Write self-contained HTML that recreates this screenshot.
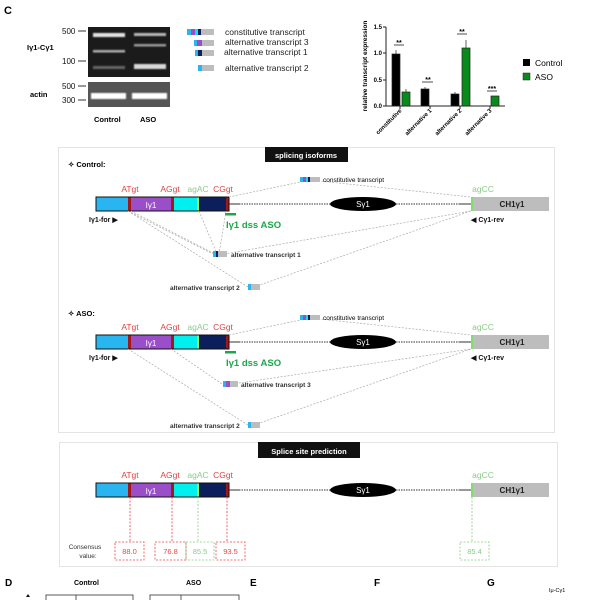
<!DOCTYPE html>
<html><head><meta charset="utf-8"><style>body{margin:0;background:#fff}svg{display:block}text{font-family:"Liberation Sans",sans-serif}</style></head><body>
<svg width="600" height="600" viewBox="0 0 600 600" xmlns="http://www.w3.org/2000/svg">
<defs>
<filter id="b"><feGaussianBlur stdDeviation="0.8"/></filter>
<g id="gene">
<rect x="96" y="0" width="32" height="14" fill="#29b6f0"/>
<rect x="128" y="0" width="3" height="14" fill="#a01818"/>
<rect x="131" y="0" width="40" height="14" fill="#9a4fc8"/>
<rect x="171" y="0" width="3" height="14" fill="#a01818"/>
<rect x="174" y="0" width="23" height="14" fill="#00f0f0"/>
<rect x="197" y="0" width="2" height="14" fill="#90ee70"/>
<rect x="199" y="0" width="27" height="14" fill="#0a1f5c"/>
<rect x="226" y="0" width="3" height="14" fill="#a01818"/>
<rect x="96" y="0" width="133" height="14" fill="none" stroke="#111" stroke-width="1"/>
<text x="151" y="11" font-size="8" fill="#fff" text-anchor="middle">Iγ1</text>
<line x1="229" y1="7" x2="330" y2="7" stroke="#333" stroke-width="1" stroke-dasharray="1.5,1"/>
<line x1="229" y1="7" x2="240" y2="7" stroke="#333" stroke-width="1"/>
<ellipse cx="363" cy="7" rx="33" ry="7" fill="#000"/>
<text x="363" y="10" font-size="8" fill="#fff" text-anchor="middle">Sγ1</text>
<line x1="396" y1="7" x2="471" y2="7" stroke="#333" stroke-width="1" stroke-dasharray="1.5,1"/>
<line x1="460" y1="7" x2="471" y2="7" stroke="#333" stroke-width="1"/>
<rect x="471" y="0" width="78" height="14" fill="#bdbdbd"/>
<rect x="471" y="0" width="2" height="14" fill="#7ee06a"/>
<text x="512" y="10" font-size="8" fill="#222" text-anchor="middle" font-weight="bold">CH1γ1</text>
<g font-size="8.5">
<text x="130" y="-5" fill="#d44" text-anchor="middle">ATgt</text>
<text x="170" y="-5" fill="#d44" text-anchor="middle">AGgt</text>
<text x="198" y="-5" fill="#8c8" text-anchor="middle">agAC</text>
<text x="223" y="-5" fill="#d44" text-anchor="middle">CGgt</text>
<text x="483" y="-5" fill="#8c8" text-anchor="middle">agCC</text>
</g>
</g>
<g id="labels">
<text x="89" y="25" font-size="7" font-weight="bold" fill="#111">Iγ1-for ▶</text>
<text x="471" y="25" font-size="7" font-weight="bold" fill="#111">◀ Cγ1-rev</text>
<rect x="225" y="16" width="11" height="2.5" fill="#1aa84a"/>
<text x="226" y="31" font-size="9.5" font-weight="bold" fill="#1aa84a">Iγ1 dss ASO</text>
</g>
</defs>

<text x="4" y="14" font-size="11" font-weight="bold">C</text>
<rect x="88" y="27" width="82" height="50" fill="#1b1b1b"/>
<g filter="url(#b)" fill="#eee">
<rect x="93" y="33" width="32" height="4" opacity="0.95"/>
<rect x="134" y="33" width="32" height="3" opacity="0.75"/>
<rect x="93" y="50" width="32" height="2.5" opacity="0.7"/>
<rect x="134" y="44" width="32" height="2.5" opacity="0.6"/>
<rect x="93" y="66" width="32" height="3" opacity="0.35"/>
<rect x="134" y="64" width="32" height="5" opacity="0.9"/>
</g>
<rect x="88" y="82" width="82" height="25" fill="#555"/>
<g filter="url(#b)" fill="#fff"><rect x="91" y="93" width="35" height="6"/><rect x="132" y="93" width="35" height="6"/></g>
<g font-size="8" fill="#111">
<text x="62" y="34">500</text><line x1="78" y1="31" x2="86" y2="31" stroke="#333"/>
<text x="62" y="64">100</text><line x1="78" y1="61" x2="86" y2="61" stroke="#333"/>
<text x="62" y="89">500</text><line x1="78" y1="86" x2="86" y2="86" stroke="#333"/>
<text x="62" y="103">300</text><line x1="78" y1="100" x2="86" y2="100" stroke="#333"/>
</g>
<text x="27" y="50" font-size="7.5" font-weight="bold">Iγ1-Cγ1</text>
<text x="30" y="97" font-size="7.5" font-weight="bold">actin</text>
<text x="94" y="122" font-size="7.5" font-weight="bold">Control</text>
<text x="140" y="122" font-size="7.5" font-weight="bold">ASO</text>
<g>
<rect x="187" y="29" width="4" height="6" fill="#29b6f0"/><rect x="191" y="29" width="4" height="6" fill="#9a4fc8"/><rect x="195" y="29" width="3" height="6" fill="#00e8f0"/><rect x="198" y="29" width="3" height="6" fill="#0a1f5c"/><rect x="201" y="29" width="13" height="6" fill="#bdbdbd"/>
<rect x="194" y="40" width="3" height="6" fill="#29b6f0"/><rect x="197" y="40" width="5" height="6" fill="#9a4fc8"/><rect x="202" y="40" width="12" height="6" fill="#bdbdbd"/>
<rect x="195" y="50" width="3" height="6" fill="#29b6f0"/><rect x="198" y="50" width="4" height="6" fill="#0a1f5c"/><rect x="202" y="50" width="12" height="6" fill="#bdbdbd"/>
<rect x="198" y="65" width="4" height="6" fill="#29b6f0"/><rect x="202" y="65" width="12" height="6" fill="#bdbdbd"/>
</g>
<g font-size="8.5" fill="#222">
<text x="225" y="35">constitutive transcript</text>
<text x="225" y="45">alternative transcript 3</text>
<text x="224" y="55">alternative transcript 1</text>
<text x="225" y="71">alternative transcript 2</text>
</g>
<g>
<line x1="386" y1="27" x2="386" y2="106" stroke="#222"/>
<line x1="386" y1="106" x2="505" y2="106" stroke="#222"/>
<g stroke="#222"><line x1="383" y1="27" x2="386" y2="27"/><line x1="383" y1="53" x2="386" y2="53"/><line x1="383" y1="80" x2="386" y2="80"/><line x1="383" y1="106" x2="386" y2="106"/>
<line x1="400" y1="106" x2="400" y2="109"/><line x1="430" y1="106" x2="430" y2="109"/><line x1="460" y1="106" x2="460" y2="109"/><line x1="490" y1="106" x2="490" y2="109"/></g>
<g font-size="6" font-weight="bold" text-anchor="end"><text x="382" y="29">1.5</text><text x="382" y="55">1.0</text><text x="382" y="82">0.5</text><text x="382" y="108">0.0</text></g>
<text transform="translate(367,66) rotate(-90)" font-size="6.5" font-weight="bold" text-anchor="middle">relative transcript expression</text>
<g stroke="#222" stroke-width="0.7">
<rect x="392" y="54" width="8" height="52" fill="#000"/><line x1="396" y1="54" x2="396" y2="50"/>
<rect x="402" y="92" width="8" height="14" fill="#0a8a1a"/><line x1="406" y1="92" x2="406" y2="89"/>
<rect x="421" y="89" width="8" height="17" fill="#000"/><line x1="425" y1="89" x2="425" y2="87"/>
<rect x="451" y="94" width="8" height="12" fill="#000"/><line x1="455" y1="94" x2="455" y2="92"/>
<rect x="462" y="48" width="8" height="58" fill="#0a8a1a"/><line x1="466" y1="48" x2="466" y2="40"/>
<rect x="491" y="96" width="8" height="10" fill="#0a8a1a"/>
</g>
<g stroke="#222" stroke-width="0.8"><line x1="394" y1="45" x2="404" y2="45"/><line x1="422" y1="82" x2="433" y2="82"/><line x1="457" y1="34" x2="467" y2="34"/><line x1="487" y1="91" x2="497" y2="91"/></g>
<g font-size="7" font-weight="bold" text-anchor="middle"><text x="399" y="45">**</text><text x="428" y="82">**</text><text x="462" y="34">**</text><text x="492" y="91">***</text></g>
<g font-size="6" font-weight="bold" text-anchor="end">
<text transform="translate(402,111) rotate(-45)">constitutive</text>
<text transform="translate(432,111) rotate(-45)">alternative 1</text>
<text transform="translate(462,111) rotate(-45)">alternative 2</text>
<text transform="translate(492,111) rotate(-45)">alternative 3</text>
</g>
<rect x="523" y="59" width="7" height="7" fill="#000"/><text x="535" y="66" font-size="8.5">Control</text>
<rect x="523" y="73" width="7" height="7" fill="#0a8a1a" stroke="#222" stroke-width="0.5"/><text x="535" y="80" font-size="8.5">ASO</text>
</g>

<rect x="58.5" y="147.5" width="496" height="285" fill="none" stroke="#e4e4e4"/>
<rect x="265" y="147" width="83" height="15" fill="#111"/>
<text x="306" y="158" font-size="7.5" font-weight="bold" fill="#fff" text-anchor="middle">splicing isoforms</text>
<text x="68" y="167" font-size="7.5" font-weight="bold">✧ Control:</text>
<use href="#gene" transform="translate(0,197)"/>
<use href="#labels" transform="translate(0,197)"/>
<g stroke="#aaa" stroke-width="0.7" stroke-dasharray="2,1.5" fill="none">
<polyline points="229,197 310,180 471,197"/>
<line x1="128" y1="211" x2="213" y2="254"/><line x1="131" y1="211" x2="215" y2="254"/>
<line x1="199" y1="211" x2="217" y2="254"/><line x1="226" y1="211" x2="219" y2="254"/>
<line x1="224" y1="254" x2="471" y2="211"/>
<line x1="128" y1="211" x2="248" y2="287"/><line x1="254" y1="287" x2="471" y2="211"/>
</g>
<rect x="300" y="177" width="3" height="5" fill="#29b6f0"/><rect x="303" y="177" width="3" height="5" fill="#9a4fc8"/><rect x="306" y="177" width="2" height="5" fill="#00e8f0"/><rect x="308" y="177" width="2" height="5" fill="#0a1f5c"/><rect x="310" y="177" width="10" height="5" fill="#bdbdbd"/>
<text x="323" y="182" font-size="6.5">constitutive transcript</text>
<rect x="213" y="251" width="3" height="6" fill="#29b6f0"/><rect x="216" y="251" width="2" height="6" fill="#0a1f5c"/><rect x="218" y="251" width="9" height="6" fill="#bdbdbd"/>
<text x="231" y="257" font-size="6.5" font-weight="bold" fill="#333">alternative transcript 1</text>
<rect x="248" y="284" width="3" height="6" fill="#29b6f0"/><rect x="251" y="284" width="9" height="6" fill="#bdbdbd"/>
<text x="170" y="290" font-size="6.5" font-weight="bold" fill="#333">alternative transcript 2</text>

<text x="68" y="316" font-size="7.5" font-weight="bold">✧ ASO:</text>
<use href="#gene" transform="translate(0,335)"/>
<use href="#labels" transform="translate(0,335)"/>
<g stroke="#aaa" stroke-width="0.7" stroke-dasharray="2,1.5" fill="none">
<polyline points="229,335 310,318 471,335"/>
<line x1="171" y1="349" x2="222" y2="384"/><line x1="232" y1="384" x2="471" y2="349"/>
<line x1="128" y1="349" x2="248" y2="425"/><line x1="254" y1="425" x2="471" y2="349"/>
</g>
<rect x="300" y="315" width="3" height="5" fill="#29b6f0"/><rect x="303" y="315" width="3" height="5" fill="#9a4fc8"/><rect x="306" y="315" width="2" height="5" fill="#00e8f0"/><rect x="308" y="315" width="2" height="5" fill="#0a1f5c"/><rect x="310" y="315" width="10" height="5" fill="#bdbdbd"/>
<text x="323" y="320" font-size="6.5">constitutive transcript</text>
<rect x="223" y="381" width="3" height="6" fill="#29b6f0"/><rect x="226" y="381" width="4" height="6" fill="#9a4fc8"/><rect x="230" y="381" width="8" height="6" fill="#bdbdbd"/>
<text x="241" y="387" font-size="6.5" font-weight="bold" fill="#333">alternative transcript 3</text>
<rect x="248" y="422" width="3" height="6" fill="#29b6f0"/><rect x="251" y="422" width="9" height="6" fill="#bdbdbd"/>
<text x="170" y="428" font-size="6.5" font-weight="bold" fill="#333">alternative transcript 2</text>

<rect x="59.5" y="442.5" width="498" height="124" fill="none" stroke="#e4e4e4"/>
<rect x="258" y="442" width="102" height="16" fill="#111"/>
<text x="309" y="454" font-size="7.5" font-weight="bold" fill="#fff" text-anchor="middle">Splice site prediction</text>
<use href="#gene" transform="translate(0,483)"/>
<g stroke-dasharray="2,1.5" stroke-width="0.8" fill="none">
<line x1="130" y1="497" x2="130" y2="542" stroke="#e44"/>
<line x1="172" y1="497" x2="172" y2="542" stroke="#e44"/>
<line x1="198" y1="497" x2="198" y2="542" stroke="#8c8"/>
<line x1="227" y1="497" x2="227" y2="542" stroke="#e44"/>
<line x1="472" y1="497" x2="472" y2="542" stroke="#8c8"/>
<rect x="115" y="542" width="29" height="18" stroke="#e44"/>
<rect x="155" y="542" width="31" height="18" stroke="#e44"/>
<rect x="186" y="542" width="28" height="18" stroke="#8c8"/>
<rect x="216" y="542" width="29" height="18" stroke="#e44"/>
<rect x="460" y="542" width="29" height="18" stroke="#8c8"/>
</g>
<g font-size="7.5" text-anchor="middle">
<text x="129.5" y="554" fill="#e44">88.0</text><text x="170.5" y="554" fill="#e44">76.8</text><text x="200" y="554" fill="#8c8">85.5</text><text x="230.5" y="554" fill="#e44">93.5</text><text x="474.5" y="554" fill="#8c8">85.4</text>
<text x="85" y="549" font-size="6.5" fill="#333">Consensus</text><text x="88" y="558" font-size="6.5" fill="#333">value:</text>
</g>

<g font-size="10" font-weight="bold"><text x="5" y="586">D</text><text x="250" y="586">E</text><text x="374" y="586">F</text><text x="487" y="586">G</text></g>
<text x="74" y="585" font-size="7" font-weight="bold">Control</text>
<text x="186" y="585" font-size="7" font-weight="bold">ASO</text>
<text x="549" y="592" font-size="5.5">Iμ-Cγ1</text>
<g fill="none" stroke="#333" stroke-width="0.8"><rect x="46" y="595" width="87" height="10"/><line x1="76" y1="595" x2="76" y2="600"/><rect x="150" y="595" width="89" height="10"/><line x1="181" y1="595" x2="181" y2="600"/></g>
<path d="M26,597 l2,-3 l2,3z" fill="#111"/>
</svg>
</body></html>
